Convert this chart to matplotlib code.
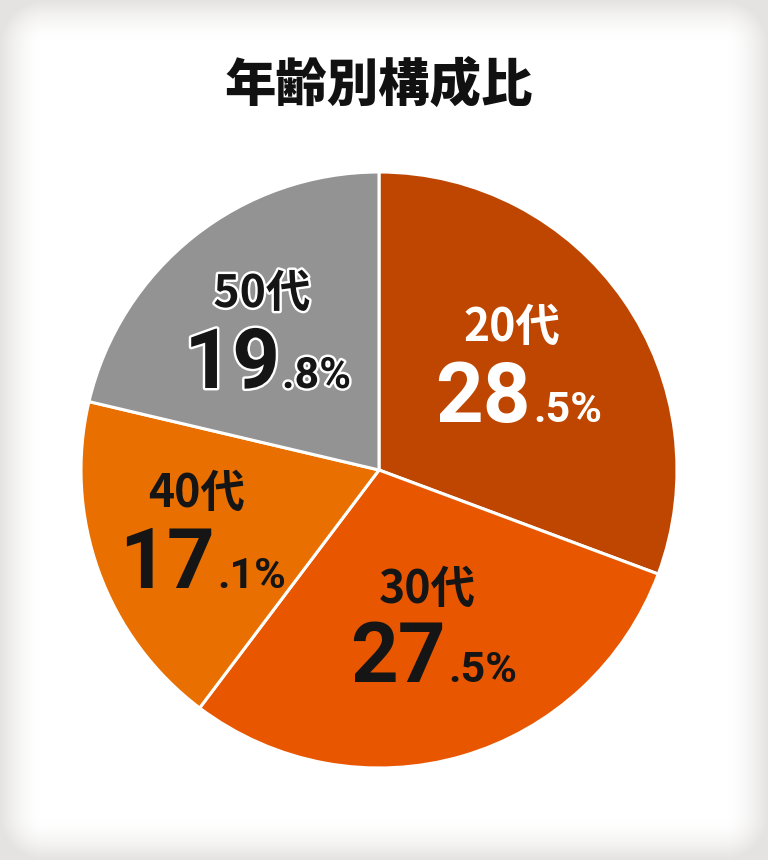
import numpy as np
import matplotlib
matplotlib.use("Agg")
import matplotlib.pyplot as plt
import matplotlib.patheffects as pe

# ---- data ----
categories = ["20代", "30代", "40代", "50代"]
values = [28.5, 27.5, 17.1, 19.8]
int_parts = ["28", "27", "17", "19"]
dec_parts = [".5%", ".5%", ".1%", ".8%"]
colors = ["#BF4600", "#E95600", "#E97000", "#939393"]
title = "年齢別構成比"

W, H = 768, 860
fig = plt.figure(figsize=(W / 100, H / 100), dpi=100)

# ---- background card with soft shadow ----
bg = fig.add_axes([0, 0, 1, 1])
yy, xx = np.mgrid[0:H, 0:W] + 0.5
x0, x1, y0, y1 = 45, W - 45, 45, H - 45
dx = np.maximum(np.maximum(x0 - xx, xx - x1), 0)
dy = np.maximum(np.maximum(y0 - yy, yy - y1), 0)
d = np.sqrt(dx ** 2 + dy ** 2)
t = np.clip((d - 5) / 40, 0, 1) ** 1.6
white = np.array([1.0, 1.0, 1.0])
gray = np.array([229, 227, 225]) / 255
img = white[None, None, :] * (1 - t[..., None]) + gray[None, None, :] * t[..., None]
bg.imshow(img, extent=[0, W, 0, H], origin="lower", aspect="auto")
bg.set_xlim(0, W)
bg.set_ylim(0, H)
bg.axis("off")

# ---- pie ----
ax = fig.add_axes([0, 0, 1, 1])
ax.set_xlim(0, W)
ax.set_ylim(0, H)
ax.axis("off")
ax.pie(values, colors=colors, startangle=90, counterclock=False,
       center=(379, H - 470), radius=298,
       wedgeprops=dict(edgecolor="white", linewidth=2.2))
ax.set_xlim(0, W)
ax.set_ylim(0, H)
ax.set_aspect("auto")

def P(x, y):
    return (x, H - y)

jp = ["Noto Sans CJK JP", "DejaVu Sans"]
num = ["Roboto", "DejaVu Sans"]

# title
ax.text(*P(379, 86), title, ha="center", va="center", fontsize=37,
        fontweight="black", family=jp, color="#111111")

# label positions (layout): label center, number split x, number baseline
layout = [
    (512, 328, 531, 422, "white", False),
    (427, 590, 446, 682, "#151515", False),
    (197, 494, 215, 588, "#151515", False),
    (262, 294, 280, 388, "#151515", True),
]
for cat, ip, dp, (lx, ly, sx, by, c, outline) in zip(categories, int_parts, dec_parts, layout):
    effects = [pe.withStroke(linewidth=3.5, foreground="white")] if outline else None
    ax.text(*P(lx, ly), cat, ha="center", va="center", fontsize=32,
            fontweight="bold", family=jp, color=c, path_effects=effects)
    ax.text(*P(sx, by), ip, ha="right", va="baseline", fontsize=60,
            fontweight="bold", family=num, color=c, path_effects=effects)
    ax.text(*P(sx + 2, by), dp, ha="left", va="baseline", fontsize=31,
            fontweight="bold", family=num, color=c, path_effects=effects)

fig.savefig("out.png", dpi=100)
